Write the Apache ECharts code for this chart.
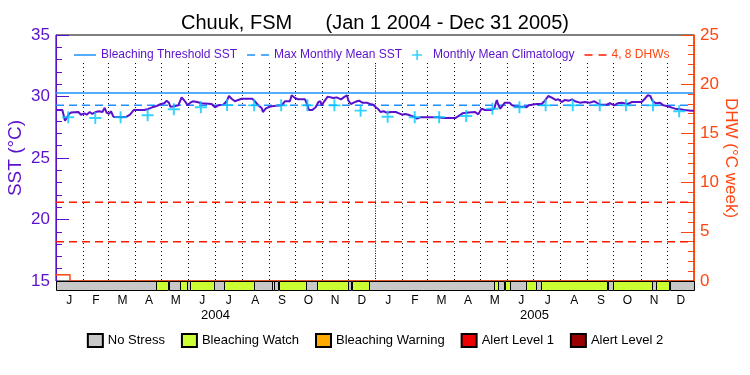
<!DOCTYPE html>
<html><head><meta charset="utf-8">
<script src="https://cdn.jsdelivr.net/npm/echarts@6/dist/echarts.min.js"></script>
<style>html,body{margin:0;padding:0;background:#fff}#c{width:750px;height:375px}</style>
</head><body><div id="c"></div>
<script>
// ---------------- DATA ----------------
const titleText = 'Chuuk, FSM      (Jan 1 2004 - Dec 31 2005)';
const monthLabels = ['J','F','M','A','M','J','J','A','S','O','N','D','J','F','M','A','M','J','J','A','S','O','N','D'];
const yearLabels = ['2004','2005'];
const totalDays = 731; // Jan 1 2004 .. Dec 31 2005
const monthStartDays = [31,60,91,121,152,182,213,244,274,305,335,366,397,425,456,486,517,547,578,609,639,670,700];
const yearStartDay = 366;

// daily SST (°C), day offset from Jan 1 2004
const sstDays = [0,7.3,10.3,12.2,14.9,17.2,25.6,28.6,32.5,35.1,38.6,41.6,45.4,49.3,53.1,55.7,58.0,60.7,63.0,65.7,75.2,80.9,84.8,89.0,101.2,105.8,110.3,115.3,120.3,124.1,126.8,129.4,131.0,135.5,140.1,144.0,147.8,150.8,153.9,156.9,161.5,166.9,178.3,182.1,186.0,191.7,195.5,198.2,201.2,205.0,208.9,212.7,224.9,228.7,231.8,235.6,237.1,240.2,243.0,247.0,258.5,262.3,268.0,270.0,273.8,277.6,285.3,287.6,289.8,293.7,297.5,300.6,302.9,304.4,307.4,311.3,317.8,321.6,326.6,329.6,333.4,335.0,338.0,341.1,344.9,347.2,351.0,356.0,359.8,363.6,366.4,369.4,371.7,375.5,378.6,384.7,389.3,393.1,396.9,400.0,403.8,407.6,411.4,413.7,417.5,422.9,438.2,443.9,457.3,461.1,465.7,472.6,480.2,483.8,487.6,491.4,498.3,502.1,503.6,505.1,506.7,509.0,511.2,514.3,519.6,521.9,525.8,536.5,539.1,541.8,550.6,556.4,560.2,564.0,568.6,572.4,575.5,579.3,583.1,587.7,591.5,594.6,600.3,606.1,611.8,616.8,620.6,623.6,630.9,634.7,636.6,639.7,643.5,648.1,655.0,659.6,671.0,674.8,677.9,681.0,683.3,687.1,692.1,695.9,699.7,704.7,709.3,715.0,720.0,727.6,731];
const sstValues = [28.90,28.90,28.03,28.25,28.58,28.69,28.74,28.52,28.63,28.52,28.74,28.58,28.74,28.80,28.74,29.07,28.69,28.58,28.80,28.36,28.31,28.36,28.52,28.90,28.90,28.99,29.12,29.23,29.39,29.45,29.66,29.50,29.17,29.20,29.28,29.93,29.61,29.28,29.50,29.61,29.55,29.45,29.39,29.12,29.28,29.33,29.61,30.04,29.82,29.61,29.72,29.82,29.82,29.55,29.28,29.07,28.74,29.01,29.12,29.20,29.28,29.61,29.61,30.10,29.88,29.77,29.77,29.39,28.90,28.90,29.12,29.55,29.61,29.28,29.61,29.99,29.88,29.93,29.77,29.93,30.10,29.66,29.39,29.50,29.61,29.66,29.50,29.50,29.39,29.33,29.12,28.96,28.74,28.80,28.69,28.74,28.74,28.63,28.52,28.58,28.52,28.41,28.31,28.20,28.31,28.31,28.31,28.25,28.25,28.41,28.63,28.69,28.74,28.55,29.01,28.90,28.90,29.01,29.39,29.72,29.33,29.01,29.07,29.50,29.50,29.33,29.17,29.17,29.12,29.28,29.39,29.39,29.66,30.04,29.88,29.72,29.77,29.55,29.72,29.66,29.77,29.61,29.50,29.55,29.50,29.61,29.45,29.33,29.33,29.45,29.55,29.28,29.45,29.50,29.39,29.55,29.55,29.82,30.10,30.04,29.66,29.45,29.50,29.28,29.23,29.12,29.01,28.96,28.90,28.85,28.85];

// monthly mean climatology (mid-month)
const climDays = [14,45,74,105,135,166,196,227,258,288,319,349,380,411,439,470,500,531,561,592,623,653,684,714];
const climValues = [28.31,28.25,28.31,28.47,28.96,29.12,29.30,29.28,29.28,29.28,29.28,28.85,28.36,28.31,28.31,28.41,29.01,29.12,29.28,29.28,29.28,29.28,29.28,28.80];

const bleachingThreshold = 30.28;
const maxMonthlyMean = 29.28;
const dhwLevels = [4, 8];
const dhwDays = [0, 16, 16, 731];
const dhwValues = [0.64, 0.64, 0, 0];

// stress level segments: edges (days) and level of each segment
const stressEdges = [0,115,129,142,150,153,181,192,226,248,250,255,286,299,335,339,359,502,507,514,520,538,550,556,632,638,683,688,703,731];
const stressLevels = [0,1,0,1,0,1,0,1,0,1,0,1,0,1,0,1,0,1,0,1,0,1,0,1,0,1,0,1,0];
const stressNames = ['No Stress','Bleaching Watch','Bleaching Warning','Alert Level 1','Alert Level 2'];

// ---------------- STYLE ----------------
const PURPLE = '#5a10cc';
const ORANGE = '#ff4510';
const RED = '#ff1a00';
const BLUE = '#1e90ff';
const CYAN = '#00c8ff';
const stressColors = ['#c8c8c8','#ccff33','#ffaa00','#ee0000','#990000'];
const FONT = 'Liberation Sans';

const T0 = Date.UTC(2004,0,1), DAY = 86400000;
const t = d => T0 + d * DAY;
const TMAX = t(totalDays);

const sstData = sstDays.map((d,i) => [t(d), sstValues[i]]);
const climData = climDays.map((d,i) => [t(d), climValues[i]]);
const dhwData = dhwDays.map((d,i) => [t(d), dhwValues[i]]);

const monthLines = monthStartDays.map(d => {
  const ls = d === yearStartDay ? {type:[1,1.5]} : {};
  return [{coord:[t(d), 32.72], lineStyle: ls}, {coord:[t(d), 15]}];
});

const stressSeries = stressNames.map((name, lvl) => {
  const data = [];
  stressLevels.forEach((l,i) => { if (l === lvl) data.push([t(stressEdges[i]), t(stressEdges[i+1])]); });
  return {
    name, type:'custom', xAxisIndex:1, yAxisIndex:2, z:10,
    itemStyle:{color:stressColors[lvl], borderColor:'#000', borderWidth:1},
    encode:{x:[0,1]},
    data,
    renderItem:(params, api) => {
      const p0 = api.coord([api.value(0), 1]);
      const p1 = api.coord([api.value(1), 0]);
      return {type:'rect', shape:{x:Math.round(p0[0])+0.5, y:Math.round(p0[1])+0.5, width:Math.round(p1[0]-p0[0]), height:Math.round(p1[1]-p0[1])},
        style:{fill:stressColors[lvl], stroke:'#000', lineWidth:1}};
    }
  };
});

const plus = 'path://M0,4.2H10V5.8H0Z M4.2,0H5.8V10H4.2Z';
const solidIcon = 'path://M0,0H22V1.5H0Z';
const dashIcon = 'path://M0,0H8V1.5H0Z M14,0H22V1.5H14Z';

const option = {
  animation:false,
  textStyle:{fontFamily:FONT},
  title:{text:titleText, left:'center', top:8, textStyle:{fontSize:20, fontWeight:'normal', color:'#000', fontFamily:FONT}},
  legend:[
    {top:44, left:69, itemWidth:22, itemHeight:10, itemGap:10, selectedMode:false,
     textStyle:{color:PURPLE, fontSize:12, fontFamily:FONT},
     data:[{name:'Bleaching Threshold SST', icon:solidIcon},{name:'Max Monthly Mean SST', icon:dashIcon},{name:'Monthly Mean Climatology', icon:plus},{name:'4, 8 DHWs', icon:dashIcon, textStyle:{color:ORANGE}}]},
    {top:328, left:'center', itemWidth:15, itemHeight:13, itemGap:16, selectedMode:false, icon:'rect',
     textStyle:{color:'#000', fontSize:13, fontFamily:FONT},
     data:stressNames}
  ],
  grid:[
    {left:56, right:56, top:35, height:246, show:true, borderColor:'#000', borderWidth:1, backgroundColor:'transparent', outerBoundsMode:'none', containLabel:false},
    {left:56, right:56, top:281, height:9, outerBoundsMode:'none', containLabel:false}
  ],
  xAxis:[
    {type:'time', gridIndex:0, min:T0, max:TMAX, show:false},
    {type:'time', gridIndex:1, min:T0, max:TMAX, show:false},
    {type:'category', gridIndex:1, data:monthLabels, position:'bottom', boundaryGap:true,
     axisLine:{show:false}, axisTick:{show:false}, axisLabel:{color:'#000', fontSize:12, margin:5, interval:0}},
    {type:'category', gridIndex:1, data:yearLabels, position:'bottom', offset:14, boundaryGap:true,
     axisLine:{show:false}, axisTick:{show:false}, axisLabel:{color:'#000', fontSize:13, margin:5, interval:0}}
  ],
  yAxis:[
    {type:'value', gridIndex:0, min:15, max:35, interval:5, position:'left',
     axisLine:{show:true, lineStyle:{color:PURPLE, width:1}},
     axisTick:{show:true, inside:true, length:13, lineStyle:{color:PURPLE}},
     minorTick:{show:true, splitNumber:5, length:6, lineStyle:{color:PURPLE}},
     axisLabel:{color:PURPLE, fontSize:17, margin:6},
     splitLine:{show:false},
     name:'SST (°C)', nameLocation:'middle', nameGap:31, nameMoveOverlap:false, nameTextStyle:{color:PURPLE, fontSize:19}},
    {type:'value', gridIndex:0, min:0, max:25, interval:5, position:'right',
     axisLine:{show:true, lineStyle:{color:ORANGE, width:1}},
     axisTick:{show:true, inside:true, length:13, lineStyle:{color:ORANGE}},
     minorTick:{show:true, splitNumber:5, length:6, lineStyle:{color:ORANGE}},
     axisLabel:{color:ORANGE, fontSize:17, margin:6},
     splitLine:{show:false},
     name:'DHW (°C week)', nameLocation:'middle', nameRotate:-90, nameGap:28, nameMoveOverlap:false, nameTextStyle:{color:ORANGE, fontSize:17}},
    {type:'value', gridIndex:1, min:0, max:1, show:false}
  ],
  series:[
    {name:'Bleaching Threshold SST', type:'line', xAxisIndex:0, yAxisIndex:0, symbol:'none', z:3,
     lineStyle:{color:BLUE, width:1.5}, itemStyle:{color:BLUE},
     data:[[T0, bleachingThreshold],[TMAX, bleachingThreshold]]},
    {name:'Max Monthly Mean SST', type:'line', xAxisIndex:0, yAxisIndex:0, symbol:'none', z:3,
     lineStyle:{color:BLUE, width:1.5, type:[8,5]}, itemStyle:{color:BLUE},
     data:[[T0, maxMonthlyMean],[TMAX, maxMonthlyMean]]},
    {name:'4, 8 DHWs', type:'line', xAxisIndex:0, yAxisIndex:1, symbol:'none', z:3,
     lineStyle:{color:RED, width:1.5, type:[8,5]}, itemStyle:{color:RED},
     data:[[T0, dhwLevels[0]],[TMAX, dhwLevels[0]]]},
    {name:'4, 8 DHWs', type:'line', xAxisIndex:0, yAxisIndex:1, symbol:'none', z:3,
     lineStyle:{color:RED, width:1.5, type:[8,5]}, itemStyle:{color:RED},
     data:[[T0, dhwLevels[1]],[TMAX, dhwLevels[1]]]},
    {name:'DHW', type:'line', xAxisIndex:0, yAxisIndex:1, symbol:'none', z:4,
     lineStyle:{color:ORANGE, width:1.5}, data:dhwData},
    {name:'SST', type:'line', xAxisIndex:0, yAxisIndex:0, symbol:'none', z:5,
     lineStyle:{color:PURPLE, width:2}, itemStyle:{color:PURPLE}, data:sstData,
     markLine:{silent:true, z:1, symbol:['none','none'], label:{show:false}, emphasis:{disabled:true},
       lineStyle:{color:'#000', width:1, type:[1,3]}, data:monthLines}},
    {name:'Monthly Mean Climatology', type:'scatter', xAxisIndex:0, yAxisIndex:0, symbol:plus, symbolSize:12, z:6,
     itemStyle:{color:CYAN}, data:climData},
    ...stressSeries
  ]
};
echarts.init(document.getElementById('c')).setOption(option);
</script></body></html>
